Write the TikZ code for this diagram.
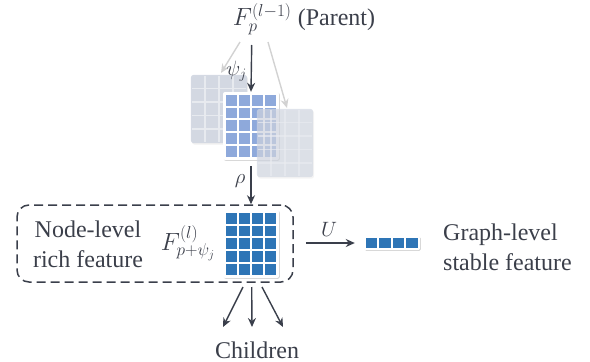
\documentclass[tikz,border=0pt]{standalone}
\usepackage{fontspec}
\setmainfont{Liberation Serif}
\usetikzlibrary{shadows,arrows.meta,calc}
\definecolor{txt}{HTML}{3B3F4A}
\definecolor{arr}{HTML}{3A3F4B}
\definecolor{lb}{HTML}{8EA9DB}
\definecolor{db}{HTML}{2E75B6}
\definecolor{gcell}{HTML}{D2D7E2}
\definecolor{gline}{HTML}{E9EBF0}
\definecolor{garr}{HTML}{D2D2D2}
% #1 node, #2 cols, #3 rows, #4 cell w, #5 cell h, #6 border, #7 fill
\newcommand\cellgrid[7]{%
  \foreach \i in {1,...,#2}{\foreach \j in {1,...,#3}{%
    \fill[#7] ($(#1.north west)+({#6+(\i-1)*(#4+2)},{#6+(\j-1)*(#5+2)})$) rectangle ++(#4,#5);}}}
% gray grid: #1 node, #2 opacity
\newcommand\graygrid[2]{%
  \fill[black,opacity=0.06*#2,rounded corners=3pt] ($(#1.north west)+(1,1.5)$) rectangle ($(#1.south east)+(1,1.5)$);
  \fill[gcell,opacity=#2,rounded corners=3pt] (#1.north west) rectangle (#1.south east);
  \foreach \i in {1,2,3}{\draw[gline,line width=1.6pt,opacity=#2] ($(#1.north west)+(14*\i,0.8)$) -- ($(#1.south west)+(14*\i,-0.8)$);}
  \foreach \j in {1,...,4}{\draw[gline,line width=1.6pt,opacity=#2] ($(#1.north west)+(0.8,13.6*\j)$) -- ($(#1.north east)+(-0.8,13.6*\j)$);}}
\begin{document}
\begin{tikzpicture}[x=1pt,y=-1pt,
  every node/.style={text=txt,font=\fontsize{24}{30}\selectfont},
  arrowline/.style={draw=arr,line width=1.4pt,-{Stealth[length=9pt,width=8pt]}},
  grayarrow/.style={draw=garr,line width=1.4pt,-{Stealth[length=9pt,width=8pt]}},
  gridbox/.style={fill=white,rounded corners=2pt,minimum width=56pt,minimum height=68pt,inner sep=0pt,
    drop shadow={opacity=0.35,shadow xshift=0.8pt,shadow yshift=-0.8pt}},
  vecbox/.style={fill=white,rounded corners=1.5pt,minimum width=56pt,minimum height=14pt,inner sep=0pt,
    drop shadow={opacity=0.35,shadow xshift=0.8pt,shadow yshift=-0.8pt}},
  ghost/.style={minimum width=56pt,minimum height=68pt,inner sep=0pt},
  lbl/.style={inner sep=1pt},
  mathlbl/.style={inner sep=1pt,font=\fontsize{25}{30}\selectfont},
  small/.style={inner sep=1pt,font=\fontsize{20}{24}\selectfont}]
\useasboundingbox (0,0) rectangle (590,362);

% parent label
\node[mathlbl] (parent) at (304,19) {$F_p^{(l-1)}$ \fontsize{24}{30}\selectfont(Parent)};
\coordinate (pc) at (251.7,45);
\coordinate (pl) at (240,42);
\coordinate (pr) at (268,42);

% left gray grid (behind)
\node[ghost] (lgrid) at (219,109) {};
\graygrid{lgrid}{0.95}

% main light-blue grid
\node[gridbox] (main) at (251,126) {};
\cellgrid{main}{4}{5}{11}{10.8}{3}{lb}

% right gray grid (semi-transparent, on top)
\node[ghost] (rgrid) at (285,143) {};
\graygrid{rgrid}{0.7}

\coordinate (lt) at (221,73);
\coordinate (rt) at (287,108);
\draw[grayarrow] (pl) -- (lt);
\draw[grayarrow] (pr) -- (rt);
\draw[arrowline] (pc) -- (main.north);
\node[small] (psi) at (236.5,71) {$\psi_j$};

% dashed group
\node[draw=arr,dash pattern=on 9pt off 5pt,line width=1.5pt,rounded corners=12pt,
  minimum width=276pt,minimum height=77pt,inner sep=0pt] (group) at (155,243.5) {};

% rho arrow
\draw[arrowline,shorten <=6pt] (main.south) -- (main.south |- group.north);
\node[small] (rho) at (240,181) {$\rho$};

% dark blue grid
\node[gridbox] (blue) at (251,244) {};
\cellgrid{blue}{4}{5}{11}{10.8}{3}{db}

\node[align=center,inner sep=0pt] (nodetext) at (88,244) {Node-level\\rich feature};
\node[mathlbl] (flabel) at (188,243) {$F_{p+\psi_j}^{(l)}$};

% vector
\node[vecbox] (vec) at (392,243) {};
\cellgrid{vec}{4}{1}{11.5}{10}{2}{db}
\draw[arrowline,shorten <=12pt,shorten >=9pt] (group.east |- vec.west) -- (vec.west);
\node[small] (ulabel) at (329,229) {$U$};

\node[align=left,inner sep=0pt,anchor=west] (graphtext) at (443,247) {Graph-level\\stable feature};

% children
\node[inner sep=0pt] (children) at (257,350) {Children};
\coordinate (s1) at (243,287);
\coordinate (s2) at (251.7,287);
\coordinate (s3) at (262,287);
\coordinate (e1) at (223,327);
\coordinate (e2) at (252,327);
\coordinate (e3) at (283,327);
\draw[arrowline] (s1) -- (e1);
\draw[arrowline] (s2) -- (e2);
\draw[arrowline] (s3) -- (e3);
\end{tikzpicture}
\end{document}
